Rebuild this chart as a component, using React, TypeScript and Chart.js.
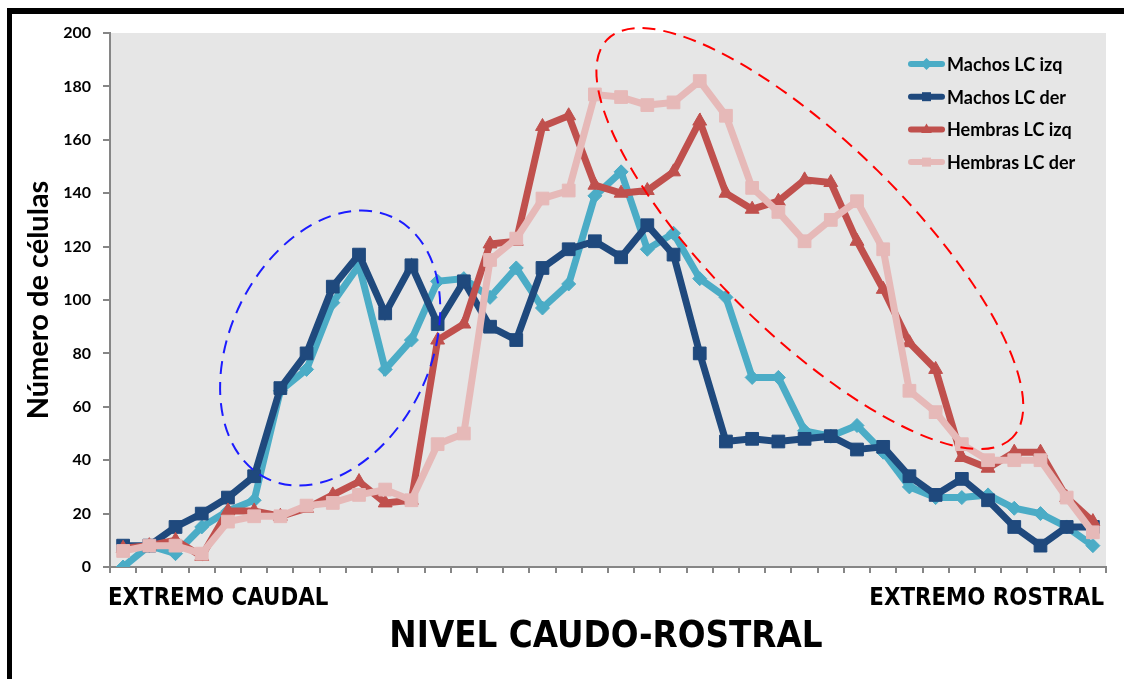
import React, { useEffect, useRef } from 'react';
import { Chart, registerables } from 'chart.js';

Chart.register(...registerables);

// ---- Data ----
const levels = [
  '1', '2', '3', '4', '5', '6', '7', '8', '9', '10',
  '11', '12', '13', '14', '15', '16', '17', '18', '19', '20',
  '21', '22', '23', '24', '25', '26', '27', '28', '29', '30',
  '31', '32', '33', '34', '35', '36', '37', '38',
];

const machosIzq = [0, 8, 5, 15, 21, 25, 66, 74, 99, 113, 74, 85, 107, 108, 101, 112, 97, 106, 139, 148, 119, 125, 108, 101, 71, 71, 51, 49, 53, 43, 30, 26, 26, 27, 22, 20, 15, 8];
const machosDer = [8, 8, 15, 20, 26, 34, 67, 80, 105, 117, 95, 113, 91, 107, 90, 85, 112, 119, 122, 116, 128, 117, 80, 47, 48, 47, 48, 49, 44, 45, 34, 27, 33, 25, 15, 8, 15, 15];
const hembrasIzq = [7, 8, 10, 4, 21, 21, 19, 22, 27, 32, 24, 25, 85, 91, 121, 122, 165, 169, 143, 140, 141, 148, 167, 140, 134, 137, 145, 144, 122, 104, 84, 74, 41, 37, 43, 43, 26, 17];
const hembrasDer = [6, 8, 8, 5, 17, 19, 19, 23, 24, 27, 29, 25, 46, 50, 115, 123, 138, 141, 177, 176, 173, 174, 182, 169, 142, 133, 122, 130, 137, 119, 66, 58, 46, 40, 40, 40, 26, 13];

const seriesNames = ['Machos LC izq', 'Machos LC der', 'Hembras LC izq', 'Hembras LC der'];
const seriesValues = [machosIzq, machosDer, hembrasIzq, hembrasDer];

const yTitle = 'Número de células';
const xTitle = 'NIVEL CAUDO-ROSTRAL';
const edgeLabels = ['EXTREMO CAUDAL', 'EXTREMO ROSTRAL'];

// ---- Styles ----
const seriesColors = ['#4bacc6', '#1f497d', '#c0504d', '#e6b9b8'];
const seriesPointStyles = ['rectRot', 'rect', 'triangle', 'rect'];
const seriesPointRadius = [7, 9, 8, 9];

// dashed highlight ellipses: centre in data units (category index, value), radii in px
const highlightEllipses = [
  { cx: 7.9, cy: 82, rx: 100, ry: 145, rotDeg: 26, color: '#1c1cff' },
  { cx: 26.2, cy: 123, rx: 284, ry: 96, rotDeg: 44.5, color: '#ff0000' },
];

function drawMarker(ctx: CanvasRenderingContext2D, style: string, x: number, y: number, r: number) {
  ctx.beginPath();
  if (style === 'rectRot') {
    ctx.moveTo(x, y - r);
    ctx.lineTo(x + r, y);
    ctx.lineTo(x, y + r);
    ctx.lineTo(x - r, y);
  } else if (style === 'triangle') {
    ctx.moveTo(x, y - r);
    ctx.lineTo(x + r * 0.9, y + r * 0.6);
    ctx.lineTo(x - r * 0.9, y + r * 0.6);
  } else {
    const s = r * 0.75;
    ctx.rect(x - s, y - s, 2 * s, 2 * s);
  }
  ctx.closePath();
  ctx.fill();
}

export default function App() {
  const ref = useRef<HTMLCanvasElement>(null);

  useEffect(() => {
    const canvas = ref.current;
    if (!canvas) return;

    const decor = {
      id: 'decor',
      beforeDraw(chart: any) {
        const { ctx, chartArea: a } = chart;
        ctx.save();
        ctx.fillStyle = '#e6e6e6';
        ctx.fillRect(a.left, a.top, a.right - a.left, a.bottom - a.top);
        ctx.fillStyle = '#000';
        ctx.fillRect(7, 8, 1117, 6);
        ctx.fillRect(7, 8, 5, 671);
        ctx.restore();
      },
      afterDatasetsDraw(chart: any) {
        const { ctx } = chart;
        const xs = chart.scales.x;
        const ys = chart.scales.y;
        ctx.save();
        ctx.lineWidth = 2;
        ctx.setLineDash([13, 8]);
        highlightEllipses.forEach((e) => {
          const px = xs.getPixelForValue(e.cx);
          const py = ys.getPixelForValue(e.cy);
          ctx.strokeStyle = e.color;
          ctx.beginPath();
          ctx.ellipse(px, py, e.rx, e.ry, (e.rotDeg * Math.PI) / 180, 0, Math.PI * 2);
          ctx.stroke();
        });
        ctx.restore();
      },
      afterDraw(chart: any) {
        const { ctx, chartArea: a } = chart;
        ctx.save();
        // legend
        const lx = 908;
        const lw = 37;
        const tx = 947;
        const y0 = 64;
        const dy = 32.7;
        seriesNames.forEach((name, i) => {
          const y = y0 + i * dy;
          ctx.strokeStyle = seriesColors[i];
          ctx.fillStyle = seriesColors[i];
          ctx.lineWidth = 6;
          ctx.lineCap = 'round';
          ctx.beginPath();
          ctx.moveTo(lx + 3, y);
          ctx.lineTo(lx + lw - 3, y);
          ctx.stroke();
          drawMarker(ctx, seriesPointStyles[i], lx + lw / 2, y, 6);
          ctx.fillStyle = '#000';
          ctx.font = 'bold 18px Lato';
          ctx.textAlign = 'left';
          ctx.textBaseline = 'middle';
          ctx.fillText(name, tx, y + 1);
        });
        // bottom texts
        ctx.fillStyle = '#000';
        ctx.textBaseline = 'middle';
        ctx.font = 'bold 24px "DejaVu Sans"';
        ctx.save();
        ctx.translate(a.left - 2, 599);
        ctx.scale(0.89, 1);
        ctx.textAlign = 'left';
        ctx.fillText(edgeLabels[0], 0, 0);
        ctx.restore();
        ctx.save();
        ctx.translate(a.right - 2, 599);
        ctx.scale(0.89, 1);
        ctx.textAlign = 'right';
        ctx.fillText(edgeLabels[1], 0, 0);
        ctx.restore();
        ctx.save();
        ctx.font = 'bold 38px "DejaVu Sans"';
        ctx.translate((a.left + a.right) / 2 - 2, 637);
        ctx.scale(0.86, 1);
        ctx.textAlign = 'center';
        ctx.fillText(xTitle, 0, 0);
        ctx.restore();
        ctx.restore();
      },
    };

    const chart = new Chart(canvas, {
      type: 'line',
      data: {
        labels: levels,
        datasets: seriesNames.map((name, i) => ({
          label: name,
          data: seriesValues[i],
          borderColor: seriesColors[i],
          backgroundColor: seriesColors[i],
          borderWidth: 7,
          pointStyle: seriesPointStyles[i] as any,
          pointRadius: seriesPointRadius[i],
          pointBorderWidth: 1,
          pointBorderColor: seriesColors[i],
          pointBackgroundColor: seriesColors[i],
          tension: 0,
          order: seriesNames.length - i,
          fill: false,
        })),
      },
      options: {
        responsive: false,
        animation: false,
        layout: { padding: { top: 33, right: 18, left: 0, bottom: 0 } },
        plugins: {
          legend: { display: false },
          tooltip: { enabled: false },
        },
        scales: {
          x: {
            type: 'category',
            offset: true,
            grid: {
              offset: true,
              drawOnChartArea: false,
              drawTicks: true,
              tickLength: 6,
              color: '#868686',
              lineWidth: 2,
            },
            border: { display: true, color: '#868686', width: 2 },
            ticks: { display: false },
            afterFit: (s: any) => {
              s.height = 112;
            },
          },
          y: {
            min: 0,
            max: 200,
            ticks: {
              stepSize: 20,
              color: '#000',
              font: { family: 'Lato', weight: 'bold', size: 16 },
              padding: 12,
            },
            grid: {
              drawOnChartArea: false,
              tickLength: 7,
              color: '#868686',
              lineWidth: 2,
            },
            border: { display: true, color: '#868686', width: 2 },
            title: {
              display: true,
              text: yTitle,
              color: '#000',
              font: { family: 'Lato', weight: 'bold', size: 29 },
              padding: { top: 21, bottom: 0 },
            },
            afterFit: (s: any) => {
              s.width = 110;
            },
          },
        },
      },
      plugins: [decor],
    });

    return () => chart.destroy();
  }, []);

  return (
    <div style={{ position: 'absolute', left: 0, top: 0, width: 1124, height: 679, background: '#fff' }}>
      <canvas ref={ref} width={1124} height={679} style={{ display: 'block' }} />
    </div>
  );
}
